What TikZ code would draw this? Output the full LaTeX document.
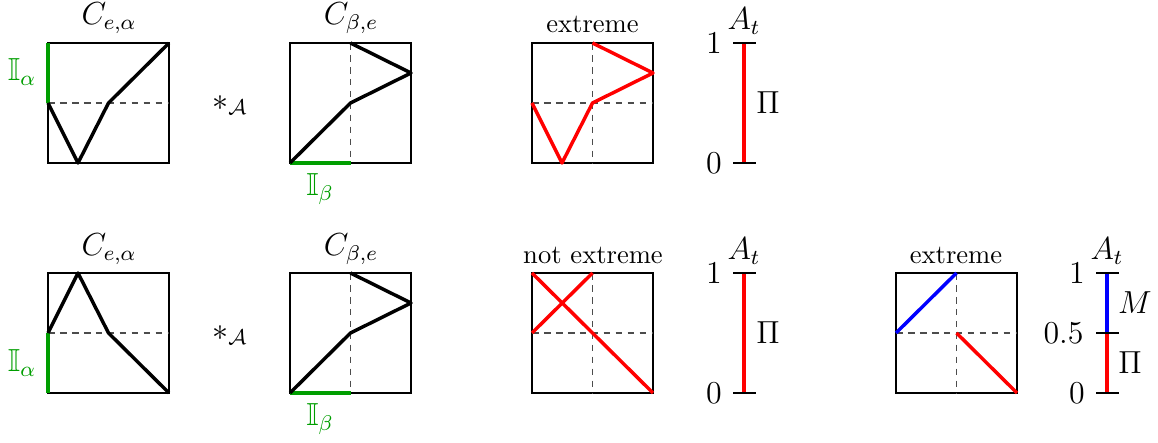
\documentclass[tikz,border=0pt]{standalone}
\usepackage{amssymb}
\definecolor{mygreen}{rgb}{0,0.62,0}
\tikzset{
  boxline/.style={draw=black, line width=0.4pt},
  midline/.style={draw=black!70, line width=0.45pt, dash pattern=on 2.5pt off 2pt},
  curve/.style={line width=1.3pt, line join=round},
  greenbar/.style={draw=mygreen, line width=1.7pt},
  tick/.style={draw=black, line width=0.4pt},
  lbl/.style={inner sep=0pt},
  mlbl/.style={inner sep=0pt, font=\large},
  glbl/.style={inner sep=0pt, font=\large, text=mygreen},
}
\begin{document}
\begin{tikzpicture}[x={(0.013223cm,0)}, y={(0,-0.013223cm)}]
\useasboundingbox (0,0) rectangle (1158,443);

% ---------- top row ----------
% box 1
\draw[boxline] (48,43) rectangle (169,163);
\draw[midline] (48,103) -- (169,103);
\draw[greenbar] (48,43) -- (48,103);
\draw[curve] (169,43) -- (108.5,103) -- (78,163) -- (48,103);
\node[mlbl] (c1) at (109,18) {$C_{e,\alpha}$};
\node[glbl] (i1) at (22,72) {$\mathbb{I}_\alpha$};
\node[mlbl] (s1) at (230,105) {$*_{\mathcal{A}}$};

% box 2
\draw[boxline] (290,43) rectangle (411,163);
\draw[midline] (350.5,43) -- (350.5,163);
\draw[greenbar] (290,163) -- (350.5,163);
\draw[curve] (290,163) -- (350.5,103) -- (411,73) -- (350.5,43);
\node[mlbl] (c2) at (351,18) {$C_{\beta,e}$};
\node[glbl] (i2) at (320,189) {$\mathbb{I}_\beta$};

% box 3
\draw[boxline] (532,43) rectangle (653,163);
\draw[midline] (532,103) -- (653,103);
\draw[midline] (592.5,43) -- (592.5,163);
\draw[curve, red] (532,103) -- (562,163) -- (592.5,103) -- (653,73) -- (592.5,43);
\node[lbl] (e1) at (592.5,24) {extreme};

% axis 1
\draw[curve, red] (744,43) -- (744,163);
\draw[tick] (733,43) -- (756,43);
\draw[tick] (733,163) -- (756,163);
\node[mlbl] (a1) at (744,21) {$A_t$};
\node[mlbl] (o1) at (714,43) {$1$};
\node[mlbl] (z1) at (714,163) {$0$};
\node[mlbl] (p1) at (768,103) {$\Pi$};

% ---------- bottom row ----------
% box 4
\draw[boxline] (48,273) rectangle (169,393);
\draw[midline] (48,333) -- (169,333);
\draw[greenbar] (48,333) -- (48,393);
\draw[curve] (48,333) -- (78,273) -- (108.5,333) -- (169,393);
\node[mlbl] (c3) at (109,249) {$C_{e,\alpha}$};
\node[glbl] (i3) at (22,363) {$\mathbb{I}_\alpha$};
\node[mlbl] (s2) at (230,335) {$*_{\mathcal{A}}$};

% box 5
\draw[boxline] (290,273) rectangle (411,393);
\draw[midline] (350.5,273) -- (350.5,393);
\draw[greenbar] (290,393) -- (350.5,393);
\draw[curve] (290,393) -- (350.5,333) -- (411,303) -- (350.5,273);
\node[mlbl] (c4) at (351,249) {$C_{\beta,e}$};
\node[glbl] (i4) at (320,419) {$\mathbb{I}_\beta$};

% box 6
\draw[boxline] (532,273) rectangle (653,393);
\draw[midline] (532,333) -- (653,333);
\draw[midline] (592.5,273) -- (592.5,393);
\draw[curve, red] (532,273) -- (653,393);
\draw[curve, red] (532,333) -- (592.5,273);
\node[lbl] (e2) at (593,255) {not extreme};

% axis 2
\draw[curve, red] (744,273) -- (744,393);
\draw[tick] (733,273) -- (756,273);
\draw[tick] (733,393) -- (756,393);
\node[mlbl] (a2) at (744,251) {$A_t$};
\node[mlbl] (o2) at (714,273) {$1$};
\node[mlbl] (z2) at (714,393) {$0$};
\node[mlbl] (p2) at (768,333) {$\Pi$};

% box 7
\draw[boxline] (896,273) rectangle (1017,393);
\draw[midline] (896,333) -- (1017,333);
\draw[midline] (956.5,273) -- (956.5,393);
\draw[curve, blue] (896,333) -- (956.5,273);
\draw[curve, red] (956.5,333) -- (1017,393);
\node[lbl] (e3) at (956,255) {extreme};

% axis 3
\draw[curve, red] (1107,393) -- (1107,333);
\draw[curve, blue] (1107,333) -- (1107,273);
\draw[tick] (1096,273) -- (1119,273);
\draw[tick] (1096,333) -- (1119,333);
\draw[tick] (1096,393) -- (1119,393);
\node[mlbl] (a3) at (1107,251) {$A_t$};
\node[mlbl] (o3) at (1077,273) {$1$};
\node[mlbl, anchor=east] (h3) at (1084,333) {$0.5$};
\node[mlbl] (z3) at (1077,393) {$0$};
\node[mlbl] (m3) at (1135,303) {$M$};
\node[mlbl] (p3) at (1130,363) {$\Pi$};
\end{tikzpicture}
\end{document}
